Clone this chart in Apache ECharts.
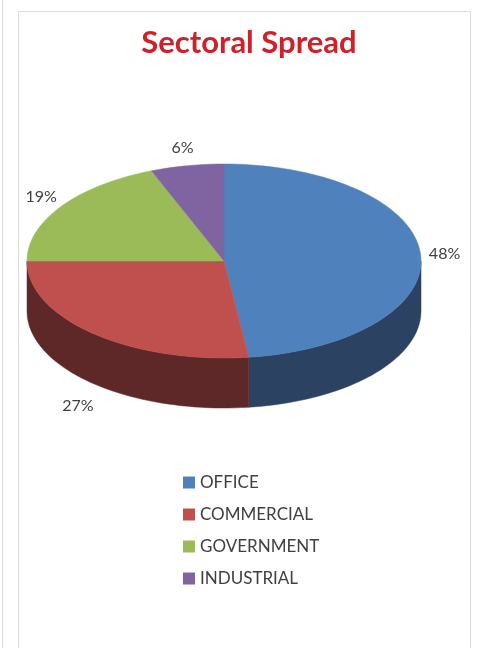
<!DOCTYPE html>
<html>
<head>
<meta charset="utf-8">
<script src="https://cdn.jsdelivr.net/npm/echarts@6/dist/echarts.min.js"></script>
<style>
  html, body { margin: 0; padding: 0; background: #fff; }
  #chart { width: 477px; height: 648px; }
</style>
</head>
<body>
<div id="chart"></div>
<script>
// chart data
const categories = ['OFFICE', 'COMMERCIAL', 'GOVERNMENT', 'INDUSTRIAL']
const values = [48, 27, 19, 6]
const topColors = ['#4F81BD', '#C0504D', '#9BBB59', '#8064A2']
const sideColors = ['#2C4262', '#5E2828', '#50612E', '#423354']

// 3D pie geometry
const cx = 224, cy = 261, rx = 197, ry = 97, depth = 50
const total = values.reduce((a, b) => a + b, 0)

const pt = (deg, dy) => {
  const r = deg * Math.PI / 180
  return [cx + rx * Math.sin(r), cy - ry * Math.cos(r) + (dy || 0)]
}
const arc = (a0, a1, dy) => {
  const pts = []
  const n = Math.max(2, Math.ceil((a1 - a0) / 2))
  for (let i = 0; i <= n; i++) pts.push(pt(a0 + (a1 - a0) * i / n, dy))
  return pts
}

const makeRender = (idx) => (params, api) => {
  let start = 0
  for (let i = 0; i < idx; i++) start += values[i] / total * 360
  const end = start + api.value(0) / total * 360
  const children = []
  // visible side wall (front half: 90..270)
  const s0 = Math.max(start, 90), s1 = Math.min(end, 270)
  if (s1 > s0) {
    const top = arc(s0, s1, 0)
    const bottom = arc(s0, s1, depth).reverse()
    children.push({
      type: 'polygon', z2: 1,
      shape: { points: top.concat(bottom) },
      style: { fill: sideColors[idx], stroke: sideColors[idx], lineWidth: 0.5 }
    })
  }
  // top face
  children.push({
    type: 'polygon', z2: 10,
    shape: { points: [[cx, cy]].concat(arc(start, end, 0)) },
    style: { fill: topColors[idx], stroke: topColors[idx], lineWidth: 0.5 }
  })
  // percent label
  const mid = (start + end) / 2
  const r = mid * Math.PI / 180
  const front = Math.cos(r) < 0
  const lx = cx + (rx + 24) * Math.sin(r)
  let ly = cy - (ry + (front ? 30 : 18)) * Math.cos(r)
  if (front) ly += depth
  children.push({
    type: 'text', z2: 20,
    x: lx, y: ly,
    style: {
      text: Math.round(api.value(0) / total * 100) + '%',
      fill: '#404040', font: '16px Lato',
      align: 'center', verticalAlign: 'middle'
    }
  })
  return { type: 'group', children }
}

const series = categories.map((name, i) => ({
  name,
  type: 'custom',
  coordinateSystem: 'none',
  itemStyle: { color: topColors[i] },
  data: [[values[i]]],
  renderItem: makeRender(i)
}))

const chart = echarts.init(document.getElementById('chart'))
chart.setOption({
  animation: false,
  backgroundColor: '#fff',
  title: {
    text: 'Sectoral Spread',
    left: 244, top: 22, textAlign: 'center',
    textStyle: { color: '#D0202A', fontSize: 31, fontWeight: 'bold', fontFamily: 'Lato' }
  },
  graphic: [
    { type: 'rect', shape: { x: 18.5, y: 11.5, width: 452, height: 660 }, style: { fill: 'none', stroke: '#dcdcdc', lineWidth: 1 }, z: -1 },
    { type: 'line', shape: { x1: 2.5, y1: 0, x2: 2.5, y2: 648 }, style: { stroke: '#dcdcdc', lineWidth: 1 }, z: -1 }
  ],
  legend: {
    orient: 'vertical',
    left: 183, top: 474,
    padding: 0,
    icon: 'rect',
    itemWidth: 12, itemHeight: 12,
    itemGap: 15,
    data: categories,
    textStyle: { color: '#404040', fontSize: 17, fontFamily: 'Lato' }
  },
  series
})
window.addEventListener('resize', () => chart.resize())
</script>
</body>
</html>
